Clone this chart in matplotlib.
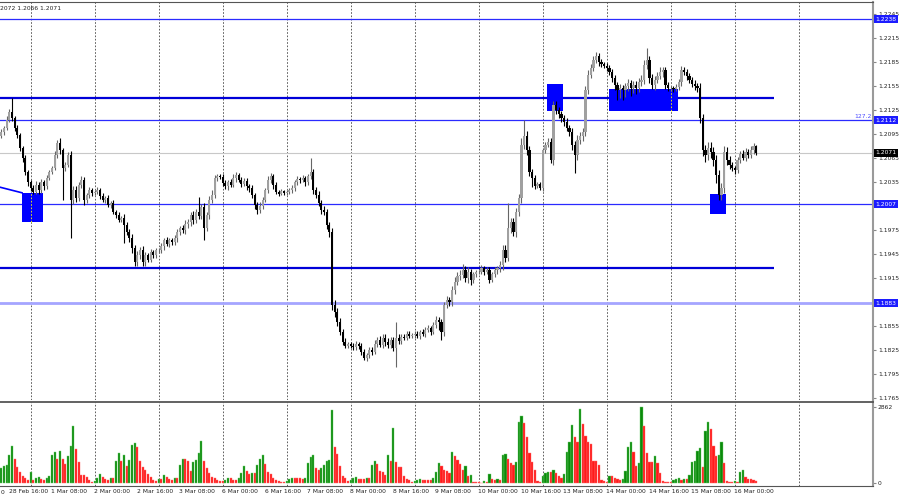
import numpy as np
import matplotlib
matplotlib.use("Agg")
import matplotlib.pyplot as plt
from matplotlib.patches import Rectangle
from matplotlib.transforms import blended_transform_factory

# EURUSD H1, 28 Feb 13:00 -> 16 Mar 08:00, one list of closes per day
first_open = 1.2092
close_feb28 = [1.2097, 1.2102, 1.2112, 1.2122, 1.2114, 1.2102, 1.2093, 1.2077, 1.2064, 1.2047, 1.2034]
close_mar01 = [1.2027, 1.2022, 1.2031, 1.2024, 1.2034, 1.2029, 1.2039, 1.2047, 1.2052, 1.2068, 1.2083, 1.2074,
               1.2052, 1.2056, 1.2068, 1.2012, 1.2024, 1.2014, 1.2031, 1.2037, 1.2012, 1.2018, 1.2024, 1.2021]
close_mar02 = [1.2022, 1.2024, 1.2017, 1.2012, 1.2014, 1.2006, 1.2008, 1.1997, 1.1993, 1.1987, 1.1989, 1.1981,
               1.1972, 1.1964, 1.1952, 1.1934, 1.1943, 1.1949, 1.1934, 1.1943, 1.1937, 1.1947, 1.1943, 1.1949]
close_mar03 = [1.1949, 1.1954, 1.1962, 1.1957, 1.1962, 1.1959, 1.1964, 1.1972, 1.1977, 1.1974, 1.1982, 1.1984,
               1.1993, 1.1987, 1.1997, 1.1992, 1.2003, 1.1977, 1.1993, 1.2012, 1.2018, 1.2039, 1.2042, 1.2041]
close_mar06 = [1.2033, 1.2029, 1.2034, 1.2031, 1.2039, 1.2043, 1.2037, 1.2032, 1.2036, 1.2029, 1.2027, 1.2018,
               1.2006, 1.1999, 1.2005, 1.2012, 1.2024, 1.2037, 1.2042, 1.2031, 1.2022, 1.2020, 1.2023, 1.2021]
close_mar07 = [1.2022, 1.2024, 1.2027, 1.2034, 1.2038, 1.2037, 1.2039, 1.2034, 1.2042, 1.2047, 1.2024, 1.2018,
               1.2008, 1.1999, 1.1997, 1.1981, 1.1972, 1.1881, 1.1872, 1.1860, 1.1847, 1.1835, 1.1830, 1.1832]
close_mar08 = [1.1830, 1.1828, 1.1832, 1.1830, 1.1822, 1.1815, 1.1818, 1.1824, 1.1822, 1.1832, 1.1837, 1.1831,
               1.1840, 1.1835, 1.1831, 1.1837, 1.1827, 1.1840, 1.1836, 1.1841, 1.1840, 1.1845, 1.1842, 1.1843]
close_mar09 = [1.1845, 1.1842, 1.1847, 1.1845, 1.1850, 1.1852, 1.1847, 1.1856, 1.1862, 1.1860, 1.1847, 1.1881,
               1.1887, 1.1884, 1.1899, 1.1910, 1.1917, 1.1918, 1.1924, 1.1914, 1.1922, 1.1912, 1.1919, 1.1922]
close_mar10 = [1.1922, 1.1927, 1.1922, 1.1924, 1.1912, 1.1919, 1.1924, 1.1927, 1.1931, 1.1950, 1.1940, 1.1977,
               1.1984, 1.1972, 1.1997, 1.2014, 1.2081, 1.2092, 1.2074, 1.2047, 1.2040, 1.2030, 1.2032, 1.2027]
close_mar13 = [1.2074, 1.2081, 1.2085, 1.2062, 1.2131, 1.2124, 1.2119, 1.2114, 1.2109, 1.2102, 1.2097, 1.2081,
               1.2068, 1.2087, 1.2092, 1.2097, 1.2149, 1.2168, 1.2177, 1.2187, 1.2192, 1.2184, 1.2182, 1.2180]
close_mar14 = [1.2177, 1.2172, 1.2164, 1.2156, 1.2149, 1.2152, 1.2149, 1.2154, 1.2158, 1.2152, 1.2156, 1.2152,
               1.2159, 1.2162, 1.2181, 1.2187, 1.2164, 1.2156, 1.2162, 1.2167, 1.2172, 1.2174, 1.2156, 1.2152]
close_mar15 = [1.2152, 1.2151, 1.2153, 1.2159, 1.2174, 1.2172, 1.2167, 1.2162, 1.2157, 1.2154, 1.2152, 1.2114,
               1.2074, 1.2068, 1.2077, 1.2072, 1.2062, 1.2043, 1.2018, 1.2027, 1.2072, 1.2062, 1.2056, 1.2052]
close_mar16 = [1.2049, 1.2062, 1.2070, 1.2065, 1.2072, 1.2068, 1.2074, 1.2079, 1.2071]

# wicks beyond the body, in pips
up_feb28 = [4, 3, 5, 4, 17, 3, 4, 3, 3, 4, 3]
dn_feb28 = [3, 4, 3, 2, 3, 4, 3, 4, 5, 4, 5]
up_mar01 = [3, 4, 5, 3, 4, 3, 4, 3, 3, 5, 4, 6, 3, 4, 4, 5, 6, 5, 4, 5, 4, 3, 4, 3]
dn_mar01 = [4, 3, 3, 4, 3, 4, 3, 2, 3, 3, 4, 5, 40, 4, 3, 48, 5, 4, 3, 4, 6, 4, 3, 4]
up_mar02 = [3, 4, 3, 4, 3, 4, 3, 4, 3, 4, 3, 5, 4, 4, 5, 4, 5, 4, 5, 4, 3, 4, 3, 3]
dn_mar02 = [3, 3, 4, 3, 4, 3, 4, 3, 4, 3, 3, 23, 4, 5, 6, 5, 4, 5, 4, 4, 3, 3, 3, 3]
up_mar03 = [3, 4, 3, 4, 3, 3, 4, 4, 3, 4, 5, 4, 4, 5, 4, 19, 4, 5, 4, 5, 6, 4, 3, 3]
dn_mar03 = [3, 3, 4, 3, 4, 3, 3, 4, 4, 3, 4, 5, 4, 5, 4, 4, 4, 15, 4, 5, 4, 3, 3, 3]
up_mar06 = [3, 4, 3, 4, 5, 4, 3, 4, 3, 4, 3, 4, 3, 4, 5, 4, 3, 5, 4, 3, 4, 3, 3, 2]
dn_mar06 = [4, 3, 4, 3, 3, 4, 3, 4, 3, 4, 5, 4, 5, 4, 3, 4, 3, 3, 4, 5, 3, 3, 2, 3]
up_mar07 = [3, 3, 4, 3, 4, 3, 4, 3, 3, 17, 4, 4, 5, 4, 5, 4, 4, 5, 6, 5, 5, 4, 4, 3]
dn_mar07 = [3, 3, 3, 4, 3, 4, 3, 4, 3, 4, 5, 4, 4, 5, 4, 5, 6, 6, 6, 5, 4, 4, 3, 3]
up_mar08 = [3, 3, 4, 3, 3, 4, 3, 4, 4, 5, 4, 5, 4, 5, 4, 4, 4, 20, 4, 3, 4, 3, 3, 3]
dn_mar08 = [3, 4, 3, 4, 4, 3, 4, 3, 4, 3, 4, 3, 4, 5, 4, 4, 4, 24, 4, 4, 3, 3, 3, 2]
up_mar09 = [3, 3, 3, 4, 3, 4, 3, 4, 5, 4, 3, 4, 5, 4, 5, 6, 5, 6, 8, 5, 6, 4, 3, 3]
dn_mar09 = [3, 3, 4, 3, 4, 3, 4, 3, 4, 10, 10, 5, 4, 5, 4, 5, 4, 5, 4, 5, 6, 6, 4, 3]
up_mar10 = [3, 4, 3, 4, 4, 3, 4, 3, 5, 6, 6, 31, 5, 6, 5, 6, 8, 20, 6, 5, 4, 3, 3, 3]
dn_mar10 = [3, 3, 4, 3, 4, 3, 3, 4, 5, 6, 5, 4, 6, 5, 6, 5, 6, 5, 6, 5, 12, 4, 3, 3]
up_mar13 = [3, 4, 4, 4, 5, 5, 4, 4, 4, 5, 4, 5, 5, 6, 5, 5, 5, 6, 5, 5, 5, 4, 4, 3]
dn_mar13 = [4, 3, 3, 4, 6, 5, 4, 4, 5, 4, 5, 6, 22, 6, 5, 6, 5, 5, 4, 4, 4, 5, 4, 3]
up_mar14 = [3, 4, 4, 4, 4, 5, 4, 4, 5, 4, 5, 5, 5, 6, 6, 15, 5, 6, 5, 5, 6, 4, 4, 3]
dn_mar14 = [4, 4, 5, 6, 12, 10, 12, 8, 6, 10, 6, 8, 5, 5, 5, 5, 6, 5, 6, 4, 4, 6, 5, 4]
up_mar15 = [3, 3, 4, 4, 5, 4, 4, 4, 4, 5, 4, 6, 6, 7, 8, 7, 6, 6, 6, 6, 8, 6, 5, 4]
dn_mar15 = [3, 4, 3, 4, 4, 4, 5, 4, 4, 5, 5, 6, 7, 8, 6, 7, 8, 10, 6, 6, 6, 6, 5, 4]
up_mar16 = [3, 4, 3, 4, 5, 4, 5, 4, 2]
dn_mar16 = [4, 3, 4, 3, 4, 3, 4, 4, 3]

# tick volumes
vol_feb28 = [570, 646, 684, 1064, 1406, 912, 608, 418, 266, 190, 114]
vol_mar01 = [418, 114, 190, 228, 152, 114, 190, 266, 1064, 1178, 912, 1216, 912, 722, 1026, 1406, 2166, 1292,
             798, 304, 304, 228, 114, 38]
vol_mar02 = [76, 190, 342, 228, 152, 114, 190, 190, 836, 1140, 836, 1064, 646, 874, 1444, 1520, 1368, 836,
             608, 494, 342, 228, 114, 76]
vol_mar03 = [152, 152, 304, 228, 152, 114, 190, 190, 684, 912, 912, 836, 456, 798, 874, 1140, 1596, 836,
             570, 380, 228, 190, 114, 76]
vol_mar06 = [76, 114, 190, 190, 114, 114, 190, 380, 646, 456, 342, 380, 380, 684, 912, 1064, 722, 418,
             342, 190, 114, 76, 38, 38]
vol_mar07 = [76, 152, 190, 190, 190, 190, 152, 190, 760, 988, 1064, 570, 494, 570, 684, 836, 874, 2736,
             1368, 1102, 646, 266, 190, 76]
vol_mar08 = [114, 190, 228, 152, 152, 152, 190, 190, 684, 836, 722, 456, 418, 304, 1064, 836, 2090, 798,
             608, 608, 266, 152, 114, 38]
vol_mar09 = [76, 114, 152, 114, 114, 114, 114, 190, 418, 760, 646, 494, 456, 380, 1178, 1026, 874, 722,
             494, 646, 266, 304, 38, 38]
vol_mar10 = [38, 15, 76, 38, 342, 152, 114, 152, 114, 1064, 1102, 912, 760, 684, 798, 2318, 2508, 2280,
             1748, 1140, 798, 494, 76, 38]
vol_mar13 = [266, 380, 418, 418, 494, 380, 266, 190, 342, 1178, 1558, 2204, 1748, 1558, 2774, 2242, 1786, 1558,
             1482, 836, 836, 684, 114, 76]
vol_mar14 = [38, 266, 266, 190, 152, 114, 152, 456, 1368, 1558, 1178, 646, 760, 2862, 2166, 1140, 798, 798,
             1026, 760, 380, 76, 38, 38]
vol_mar15 = [38, 114, 152, 190, 114, 152, 152, 304, 798, 836, 1216, 1330, 608, 1976, 2318, 2052, 1406, 1026,
             1064, 1558, 760, 76, 38, 38]
vol_mar16 = [76, 38, 418, 494, 228, 152, 152, 114, 76]

# levels and drawn objects
thin_levels = [1.2238, 1.2112, 1.2007]
thick_levels = [1.2140, 1.1927]
light_level = 1.1883
last_price = 1.2071
boxes = [(7.75, 15.6, 1.19845, 1.2021), (204.6, 210.6, 1.21233, 1.2157),
         (227.8, 253.7, 1.21233, 1.21508), (265.7, 271.7, 1.19945, 1.20195)]
trend_x = [-0.5, 7.75]
trend_y = [1.2028, 1.2021]
price_ticks = [1.2245, 1.2215, 1.2185, 1.2155, 1.2125, 1.2095, 1.2065, 1.2035, 1.2005,
               1.1975, 1.1945, 1.1915, 1.1885, 1.1855, 1.1825, 1.1795, 1.1765]
hidden_ticks = [1.2005, 1.1885]   # covered by the level boxes
date_pos = [3, 19, 35, 51, 67, 83, 99, 115, 131, 147, 163, 179, 195, 211, 227, 243, 259, 275]
date_labels = ["28 Feb 16:00", "1 Mar 08:00", "2 Mar 00:00", "2 Mar 16:00", "3 Mar 08:00", "6 Mar 00:00",
               "6 Mar 16:00", "7 Mar 08:00", "8 Mar 00:00", "8 Mar 16:00", "9 Mar 08:00", "10 Mar 00:00",
               "10 Mar 16:00", "13 Mar 08:00", "14 Mar 00:00", "14 Mar 16:00", "15 Mar 08:00", "16 Mar 00:00"]
day_starts = list(range(11, 300, 24))

close = np.array(close_feb28 + close_mar01 + close_mar02 + close_mar03 + close_mar06 + close_mar07 +
                 close_mar08 + close_mar09 + close_mar10 + close_mar13 + close_mar14 + close_mar15 + close_mar16)
wick_up = np.array(up_feb28 + up_mar01 + up_mar02 + up_mar03 + up_mar06 + up_mar07 + up_mar08 +
                   up_mar09 + up_mar10 + up_mar13 + up_mar14 + up_mar15 + up_mar16) / 10000.0
wick_dn = np.array(dn_feb28 + dn_mar01 + dn_mar02 + dn_mar03 + dn_mar06 + dn_mar07 + dn_mar08 +
                   dn_mar09 + dn_mar10 + dn_mar13 + dn_mar14 + dn_mar15 + dn_mar16) / 10000.0
vol = np.array(vol_feb28 + vol_mar01 + vol_mar02 + vol_mar03 + vol_mar06 + vol_mar07 + vol_mar08 +
               vol_mar09 + vol_mar10 + vol_mar13 + vol_mar14 + vol_mar15 + vol_mar16)

n = len(close)
x = np.arange(n)
opn = np.r_[first_open, close[:-1]]
high = np.maximum(opn, close) + wick_up
low = np.minimum(opn, close) - wick_dn
bull = close >= opn

XMAX = 326.8
fig = plt.figure(figsize=(9, 5), dpi=100)
ax = fig.add_axes([0, 0.2, 0.97, 0.796])
axv = fig.add_axes([0, 0.028, 0.97, 0.168])

# grid
for g in day_starts:
    ax.axvline(g, color="#444444", lw=0.6, ls=(0, (2, 2)), zorder=1)
    axv.axvline(g, color="#444444", lw=0.6, ls=(0, (2, 2)), zorder=1)

# levels
ax.axhline(last_price, color="#c8c8c8", lw=0.8, zorder=1.5)
for lv in thin_levels:
    ax.axhline(lv, color="#2a2aff", lw=0.9, zorder=2)
for lv in thick_levels:
    ax.hlines(lv, -0.5, 289.7, color="#0000d8", lw=1.6, zorder=2)
ax.axhline(light_level, color="#a5a5ff", lw=2, zorder=2)
ax.plot(trend_x, trend_y, color="#0000ff", lw=1.2, zorder=2)

for x0, x1, y0, y1 in boxes:
    ax.add_patch(Rectangle((x0, y0), x1 - x0, y1 - y0, facecolor="#0000ff", edgecolor="none", zorder=3))
ax.vlines(11, boxes[0][2], boxes[0][3], colors="#ffff00", lw=0.6, linestyles=(0, (2, 2)), zorder=3.5)
ax.vlines(251, boxes[2][2], boxes[2][3], colors="#ffff00", lw=0.6, linestyles=(0, (2, 2)), zorder=3.5)

# candles
wick_col = np.where(bull, "#666666", "#000000")
ax.vlines(x, low, high, colors=wick_col, lw=0.8, zorder=4)
body = np.abs(close - opn)
body = np.where(body < 0.00004, 0.00004, body)
ax.bar(x, body, bottom=np.minimum(opn, close), width=0.8,
       color=np.where(bull, "#a0a0a0", "#000000"), lw=0, zorder=5)

ax.set_xlim(-0.5, XMAX)
ax.set_ylim(1.1762, 1.22595)
ax.set_xticks([])
ax.yaxis.tick_right()
ax.set_yticks(price_ticks)
ax.set_yticklabels(["" if t in hidden_ticks else "%.4f" % t for t in price_ticks])
ax.tick_params(axis="y", labelsize=4.3, length=2, pad=1.5, color="#888888", labelcolor="#222222")
for s in ["left", "bottom"]:
    ax.spines[s].set_visible(False)
ax.spines["top"].set_color("#555555")
ax.spines["right"].set_color("#9a9a9a")
ax.spines["right"].set_linewidth(1.5)

tr = blended_transform_factory(ax.transAxes, ax.transData)
box_labels = [(1.2238, "#1c1cff"), (1.2112, "#1c1cff"), (last_price, "#000000"),
              (1.2007, "#1c1cff"), (light_level, "#1c1cff")]
for val, fc in box_labels:
    ax.text(1.0025, val, "%.4f" % val, transform=tr, ha="left", va="center", fontsize=4.3, color="white",
            bbox=dict(boxstyle="square,pad=0.25", fc=fc, ec="none"), zorder=10, clip_on=False)
ax.text(0.9985, 1.2112 + 0.0001, "127.2", transform=tr, ha="right", va="bottom", fontsize=4.3, color="#4a4aff")
ax.text(0.0, 0.99, "2072 1.2066 1.2071", transform=ax.transAxes, ha="left", va="top", fontsize=4.3,
        color="#222222", zorder=10)

# volumes, MT4 style colouring
vprev = np.r_[0, vol[:-1]]
vcol = np.where(vol > vprev, "#0a8a0a", "#ff1a1a")
vedge = np.where(vol > vprev, "#6fcf6f", "#ff7070")
axv.bar(x, vol, width=0.8, color=vcol, edgecolor=vedge, lw=0.3, zorder=3)
axv.set_xlim(-0.5, XMAX)
axv.set_ylim(-94, 3049)
axv.set_xticks([])
axv.yaxis.tick_right()
axv.set_yticks([0, 2862])
axv.set_yticklabels(["0", "2862"])
axv.tick_params(axis="y", labelsize=4.3, length=2, pad=1.5, color="#888888", labelcolor="#222222")
axv.spines["left"].set_visible(False)
axv.spines["top"].set_color("#555555")
axv.spines["top"].set_linewidth(1.3)
axv.spines["bottom"].set_color("#555555")
axv.spines["right"].set_color("#9a9a9a")
axv.spines["right"].set_linewidth(1.5)

trv = blended_transform_factory(axv.transData, axv.transAxes)
for p, lab in zip(date_pos, date_labels):
    axv.text(p - 0.3, -0.03, lab, transform=trv, ha="left", va="top", fontsize=4.3, color="#222222",
             clip_on=False)
fig.text(0.001, 0.016, "0", ha="left", va="center", fontsize=4.3, color="#222222")

fig.savefig("out.png", dpi=100)
